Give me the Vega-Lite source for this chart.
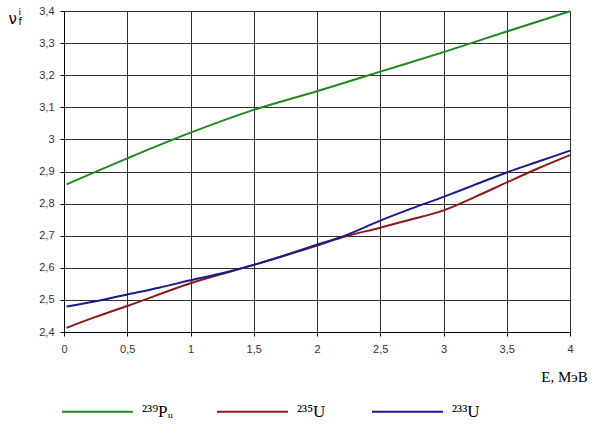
{
  "$schema": "https://vega.github.io/schema/vega-lite/v6.json",
  "width": 506,
  "height": 321,
  "autosize": {"type": "none"},
  "padding": {"left": 64, "top": 11, "right": 30, "bottom": 102},
  "background": "white",
  "config": {
    "view": {"stroke": null},
    "axis": {
      "labelFont": "Liberation Sans",
      "labelFontSize": 11,
      "labelColor": "#333333",
      "labelOverlap": false,
      "labelFlush": false,
      "labelExpr": "replace(format(datum.value, '~g'), '.', ',')",
      "domainColor": "#000000",
      "tickColor": "#000000",
      "tickSize": 4,
      "gridColor": "#1a1a1a",
      "gridWidth": 1,
      "gridOpacity": 0.9
    },
    "axisX": {"tickCount": 8, "labelPadding": 7},
    "axisY": {"tickCount": 10, "labelPadding": 6}
  },
  "datasets": {
    "curves": [
      {"E": 0.02, "nu": 2.86, "iso": "²³⁹Pᵤ"},
      {"E": 0.5, "nu": 2.941, "iso": "²³⁹Pᵤ"},
      {"E": 1, "nu": 3.021, "iso": "²³⁹Pᵤ"},
      {"E": 1.5, "nu": 3.092, "iso": "²³⁹Pᵤ"},
      {"E": 2, "nu": 3.15, "iso": "²³⁹Pᵤ"},
      {"E": 2.5, "nu": 3.211, "iso": "²³⁹Pᵤ"},
      {"E": 3, "nu": 3.272, "iso": "²³⁹Pᵤ"},
      {"E": 3.5, "nu": 3.336, "iso": "²³⁹Pᵤ"},
      {"E": 4, "nu": 3.399, "iso": "²³⁹Pᵤ"},
      {"E": 0.02, "nu": 2.413, "iso": "²³⁵U"},
      {"E": 0.25, "nu": 2.447, "iso": "²³⁵U"},
      {"E": 0.5, "nu": 2.481, "iso": "²³⁵U"},
      {"E": 1, "nu": 2.552, "iso": "²³⁵U"},
      {"E": 1.5, "nu": 2.609, "iso": "²³⁵U"},
      {"E": 2, "nu": 2.669, "iso": "²³⁵U"},
      {"E": 2.2, "nu": 2.695, "iso": "²³⁵U"},
      {"E": 2.5, "nu": 2.725, "iso": "²³⁵U"},
      {"E": 2.75, "nu": 2.751, "iso": "²³⁵U"},
      {"E": 3, "nu": 2.779, "iso": "²³⁵U"},
      {"E": 3.25, "nu": 2.821, "iso": "²³⁵U"},
      {"E": 3.5, "nu": 2.866, "iso": "²³⁵U"},
      {"E": 3.75, "nu": 2.91, "iso": "²³⁵U"},
      {"E": 4, "nu": 2.951, "iso": "²³⁵U"},
      {"E": 0.02, "nu": 2.479, "iso": "²³³U"},
      {"E": 0.25, "nu": 2.496, "iso": "²³³U"},
      {"E": 0.5, "nu": 2.517, "iso": "²³³U"},
      {"E": 0.75, "nu": 2.538, "iso": "²³³U"},
      {"E": 1, "nu": 2.561, "iso": "²³³U"},
      {"E": 1.25, "nu": 2.583, "iso": "²³³U"},
      {"E": 1.5, "nu": 2.609, "iso": "²³³U"},
      {"E": 2, "nu": 2.672, "iso": "²³³U"},
      {"E": 2.2, "nu": 2.697, "iso": "²³³U"},
      {"E": 2.5, "nu": 2.747, "iso": "²³³U"},
      {"E": 2.75, "nu": 2.785, "iso": "²³³U"},
      {"E": 3, "nu": 2.821, "iso": "²³³U"},
      {"E": 3.25, "nu": 2.859, "iso": "²³³U"},
      {"E": 3.5, "nu": 2.897, "iso": "²³³U"},
      {"E": 3.75, "nu": 2.931, "iso": "²³³U"},
      {"E": 4, "nu": 2.965, "iso": "²³³U"}
    ],
    "nuLabel": [{"s": "ν"}],
    "supLabel": [{"s": "i"}],
    "subLabel": [{"s": "f"}],
    "eLabel": [{"s": "E, МэВ"}]
  },
  "layer": [
    {
      "data": {"name": "curves"},
      "mark": {"type": "line", "interpolate": "monotone", "strokeWidth": 2},
      "encoding": {
        "x": {
          "field": "E",
          "type": "quantitative",
          "scale": {"domain": [0, 4], "nice": false},
          "axis": {"title": null}
        },
        "y": {
          "field": "nu",
          "type": "quantitative",
          "scale": {"domain": [2.4, 3.4], "nice": false, "zero": false},
          "axis": {"title": null}
        },
        "color": {
          "field": "iso",
          "type": "nominal",
          "scale": {
            "domain": ["²³⁹Pᵤ", "²³⁵U", "²³³U"],
            "range": ["#1e8a1e", "#8a1a1a", "#1a1a8a"]
          },
          "legend": {
            "title": null,
            "orient": "none",
            "direction": "horizontal",
            "legendX": -3,
            "legendY": 364,
            "padding": 0,
            "symbolType": "stroke",
            "symbolSize": 5041,
            "symbolStrokeWidth": 2,
            "labelOffset": 8,
            "labelFont": "Liberation Serif",
            "labelFontSize": 17,
            "labelColor": "#000000",
            "columnPadding": 39,
            "gridAlign": "all"
          }
        }
      }
    },
    {
      "data": {"name": "nuLabel"},
      "mark": {"type": "text", "font": "DejaVu Sans", "fontSize": 15, "align": "center", "baseline": "middle", "color": "#000000"},
      "encoding": {
        "x": {"datum": -0.405, "type": "quantitative", "axis": {"title": null}},
        "y": {"datum": 3.375, "type": "quantitative", "axis": {"title": null}},
        "text": {"field": "s"}
      }
    },
    {
      "data": {"name": "supLabel"},
      "mark": {"type": "text", "font": "DejaVu Sans", "fontSize": 9, "align": "center", "baseline": "middle", "color": "#000000"},
      "encoding": {
        "x": {"datum": -0.35, "type": "quantitative", "axis": {"title": null}},
        "y": {"datum": 3.397, "type": "quantitative", "axis": {"title": null}},
        "text": {"field": "s"}
      }
    },
    {
      "data": {"name": "subLabel"},
      "mark": {"type": "text", "font": "DejaVu Sans", "fontSize": 10, "align": "center", "baseline": "middle", "color": "#000000"},
      "encoding": {
        "x": {"datum": -0.345, "type": "quantitative", "axis": {"title": null}},
        "y": {"datum": 3.365, "type": "quantitative", "axis": {"title": null}},
        "text": {"field": "s"}
      }
    },
    {
      "data": {"name": "eLabel"},
      "mark": {"type": "text", "font": "Liberation Serif", "fontSize": 15, "align": "right", "baseline": "middle", "color": "#000000"},
      "encoding": {
        "x": {"datum": 4.14, "type": "quantitative", "axis": {"title": null}},
        "y": {"datum": 2.26, "type": "quantitative", "axis": {"title": null}},
        "text": {"field": "s"}
      }
    }
  ]
}
